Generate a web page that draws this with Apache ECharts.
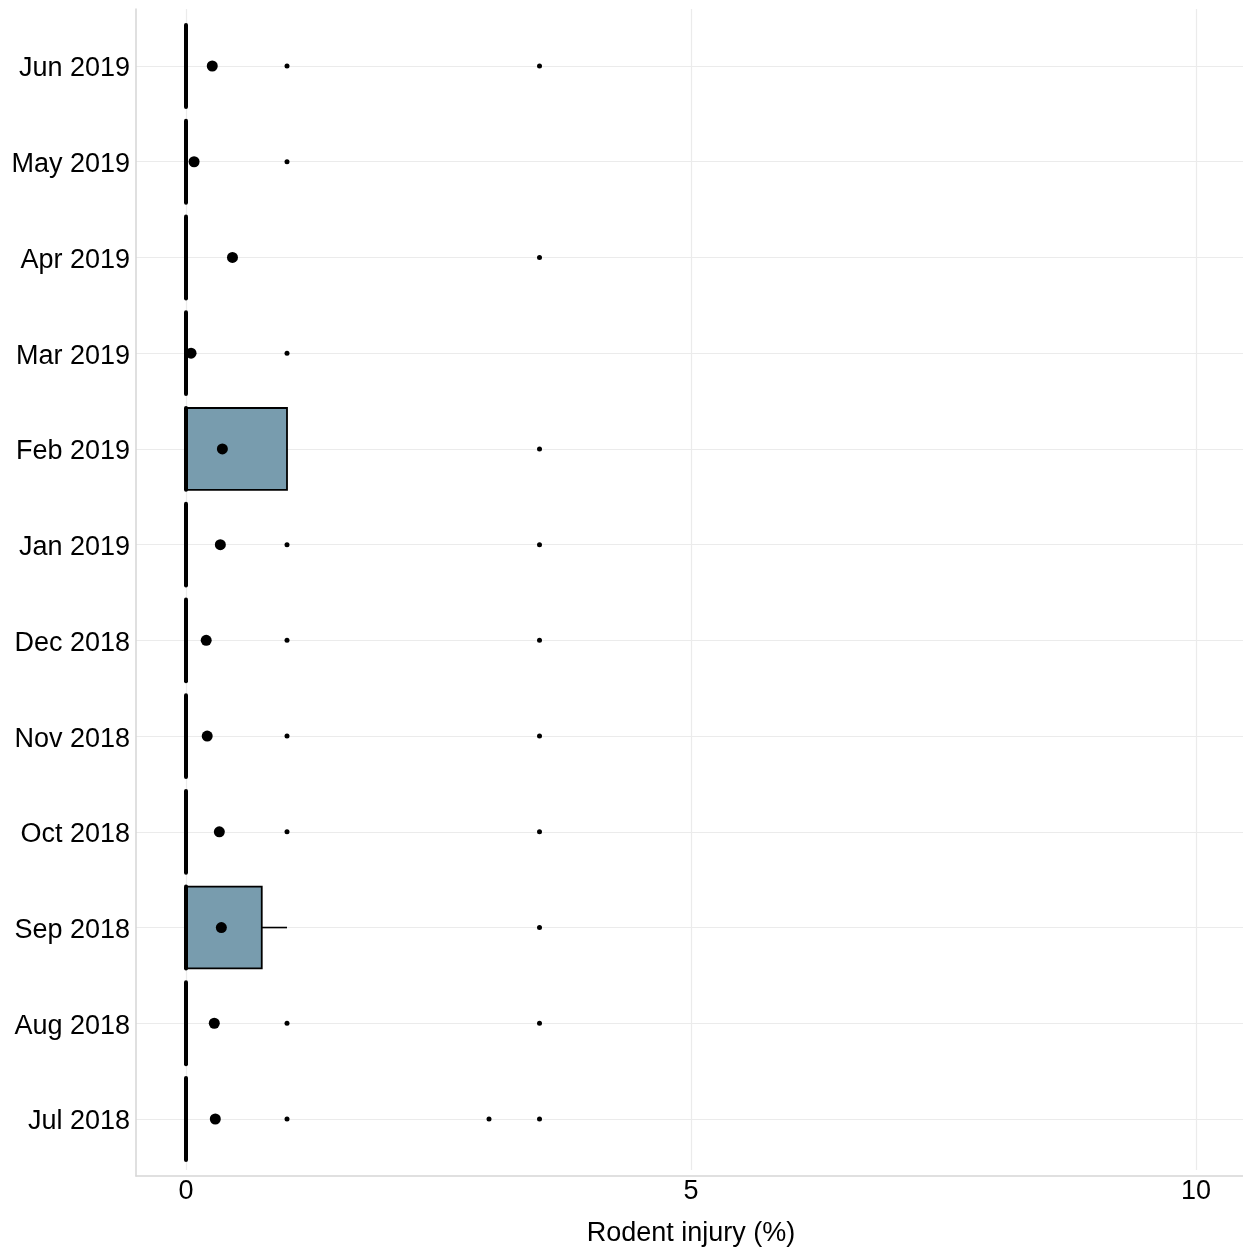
<!DOCTYPE html>
<html>
<head>
<meta charset="utf-8">
<script src="https://cdn.jsdelivr.net/npm/echarts@6/dist/echarts.min.js"></script>
<style>
  html, body { margin: 0; padding: 0; background: #ffffff; }
  #chart { width: 1243px; height: 1252px; }
</style>
</head>
<body>
<div id="chart"></div>
<script>
// Sampling months, bottom to top
const months = ['Jul 2018', 'Aug 2018', 'Sep 2018', 'Oct 2018', 'Nov 2018', 'Dec 2018',
                'Jan 2019', 'Feb 2019', 'Mar 2019', 'Apr 2019', 'May 2019', 'Jun 2019'];

// Box summaries per month: [lower whisker, Q1, median, Q3, upper whisker] (% injury)
const boxStats = [
  [0, 0, 0, 0, 0],      // Jul 2018
  [0, 0, 0, 0, 0],      // Aug 2018
  [0, 0, 0, 0.75, 1],   // Sep 2018
  [0, 0, 0, 0, 0],      // Oct 2018
  [0, 0, 0, 0, 0],      // Nov 2018
  [0, 0, 0, 0, 0],      // Dec 2018
  [0, 0, 0, 0, 0],      // Jan 2019
  [0, 0, 0, 1, 1],      // Feb 2019
  [0, 0, 0, 0, 0],      // Mar 2019
  [0, 0, 0, 0, 0],      // Apr 2019
  [0, 0, 0, 0, 0],      // May 2019
  [0, 0, 0, 0, 0]       // Jun 2019
];

// Monthly mean injury (%)
const monthMeans = [0.29, 0.28, 0.35, 0.33, 0.21, 0.20, 0.34, 0.36, 0.05, 0.46, 0.08, 0.26];

// Outlying plot values per month (%)
const outlierValues = [
  [1, 3, 3.5],  // Jul 2018
  [1, 3.5],     // Aug 2018
  [3.5],        // Sep 2018
  [1, 3.5],     // Oct 2018
  [1, 3.5],     // Nov 2018
  [1, 3.5],     // Dec 2018
  [1, 3.5],     // Jan 2019
  [3.5],        // Feb 2019
  [1],          // Mar 2019
  [3.5],        // Apr 2019
  [1],          // May 2019
  [1, 3.5]      // Jun 2019
];

const xMin = 0, xMax = 10, xStep = 5;
const xTitle = 'Rodent injury (%)';

const FONT = "'Liberation Sans', Arial, Helvetica, sans-serif";
const BOX_FILL = '#789cae';
const GRID_LINE = '#ebebeb';
const FRAME_LINE = '#d6d6d6';

const boxData = boxStats.map((s, i) => [i].concat(s));
const meanData = monthMeans.map((m, i) => [m, i]);
const outlierData = [];
outlierValues.forEach((vals, i) => vals.forEach(v => outlierData.push([v, i])));

function renderBox(params, api) {
  const cat = api.value(0);
  const pLo = api.coord([api.value(1), cat]);
  const pQ1 = api.coord([api.value(2), cat]);
  const pMed = api.coord([api.value(3), cat]);
  const pQ3 = api.coord([api.value(4), cat]);
  const pHi = api.coord([api.value(5), cat]);
  const band = api.size([0, 1])[1];
  const h = band * 0.855;
  const cy = pMed[1];
  const children = [];
  const lineStyle = { stroke: '#000', lineWidth: 1.6, fill: null };
  if (pHi[0] > pQ3[0]) {
    children.push({ type: 'line', shape: { x1: pQ3[0], y1: cy, x2: pHi[0], y2: cy }, style: lineStyle });
  }
  if (pLo[0] < pQ1[0]) {
    children.push({ type: 'line', shape: { x1: pLo[0], y1: cy, x2: pQ1[0], y2: cy }, style: lineStyle });
  }
  children.push({
    type: 'rect',
    shape: { x: pQ1[0], y: cy - h / 2, width: pQ3[0] - pQ1[0], height: h },
    style: { fill: BOX_FILL, stroke: '#000', lineWidth: 1.8 }
  });
  children.push({
    type: 'line',
    shape: { x1: pMed[0], y1: cy - h / 2, x2: pMed[0], y2: cy + h / 2 },
    style: { stroke: '#000', lineWidth: 4, lineCap: 'round' }
  });
  return { type: 'group', children: children };
}

const chart = echarts.init(document.getElementById('chart'), null, { renderer: 'canvas' });

// Panel spans 136..1243 horizontally, 9..1176 vertically.
// Data range 0..10 sits at 186..1196; month centres run 66..1119.
const panel = { left: 136, right: 0, top: 9, bottom: 76 };
const dataX = { left: 186, right: 47 };
const bandTop = 18.15, bandBottom = 85.15;
const centreTop = 66, centreBottom = 133;

chart.setOption({
  animation: false,
  backgroundColor: '#ffffff',
  textStyle: { fontFamily: FONT },
  grid: [
    // 0: panel frame
    { left: panel.left, right: panel.right, top: panel.top, bottom: panel.bottom, containLabel: false },
    // 1: x axis labels and vertical grid lines
    { left: dataX.left, right: dataX.right, top: panel.top, bottom: panel.bottom, containLabel: false },
    // 2: month labels and horizontal grid lines through month centres
    { left: panel.left, right: panel.right, top: centreTop, bottom: centreBottom, containLabel: false },
    // 3: data
    { left: dataX.left, right: dataX.right, top: bandTop, bottom: bandBottom, containLabel: false }
  ],
  xAxis: [
    { gridIndex: 0, type: 'value', min: 0, max: 1, show: true,
      axisLine: { show: true, lineStyle: { color: FRAME_LINE, width: 1.5 } },
      axisTick: { show: false }, axisLabel: { show: false }, splitLine: { show: false } },
    { gridIndex: 1, type: 'value', min: xMin, max: xMax, interval: xStep,
      axisLine: { show: false }, axisTick: { show: false },
      axisLabel: {
        show: true, margin: 4,
        formatter: '{t|{value}}',
        rich: { t: { color: '#000', fontSize: 27, fontFamily: FONT, padding: [4, 0, 0, 0] } }
      },
      splitLine: { show: true, lineStyle: { color: GRID_LINE, width: 1.2 } },
      name: xTitle, nameLocation: 'middle', nameGap: 50,
      nameTextStyle: { color: '#000', fontSize: 27, fontFamily: FONT } },
    { gridIndex: 2, type: 'value', min: 0, max: 1, show: false },
    { gridIndex: 3, type: 'value', min: xMin, max: xMax, show: false }
  ],
  yAxis: [
    { gridIndex: 0, type: 'value', min: 0, max: 1, show: true,
      axisLine: { show: true, lineStyle: { color: FRAME_LINE, width: 1.5 } },
      axisTick: { show: false }, axisLabel: { show: false }, splitLine: { show: false } },
    { gridIndex: 1, type: 'value', min: 0, max: 1, show: false },
    { gridIndex: 2, type: 'category', data: months, boundaryGap: false,
      axisLine: { show: false }, axisTick: { show: false },
      axisLabel: {
        show: true, margin: 6,
        formatter: '{m|{value}}',
        rich: { m: { color: '#000', fontSize: 27, fontFamily: FONT, padding: [6, 0, 0, 0] } }
      },
      splitLine: { show: true, lineStyle: { color: GRID_LINE, width: 1.2 } } },
    { gridIndex: 3, type: 'category', data: months, boundaryGap: true, show: false }
  ],
  series: [
    {
      type: 'custom',
      xAxisIndex: 3, yAxisIndex: 3,
      renderItem: renderBox,
      encode: { x: [1, 2, 3, 4, 5], y: 0 },
      data: boxData,
      z: 2
    },
    {
      type: 'scatter',
      xAxisIndex: 3, yAxisIndex: 3,
      symbol: 'circle', symbolSize: 5,
      itemStyle: { color: '#000', opacity: 1 },
      data: outlierData,
      z: 3
    },
    {
      type: 'scatter',
      xAxisIndex: 3, yAxisIndex: 3,
      symbol: 'circle', symbolSize: 11,
      itemStyle: { color: '#000', opacity: 1 },
      data: meanData,
      z: 4
    }
  ]
});
</script>
</body>
</html>
